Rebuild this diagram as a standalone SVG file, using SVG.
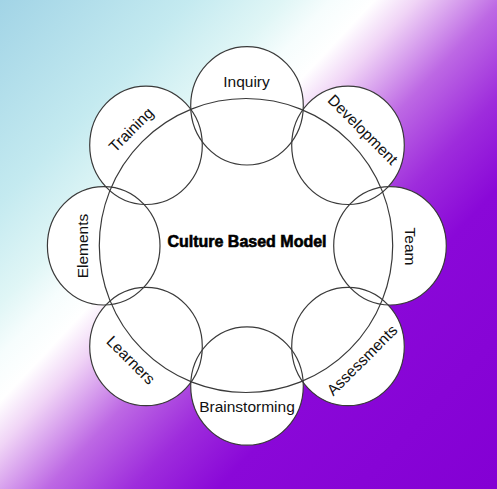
<svg xmlns="http://www.w3.org/2000/svg" width="497" height="489" viewBox="0 0 497 489">
  <defs>
    <linearGradient id="bg" gradientUnits="userSpaceOnUse" x1="0" y1="0" x2="507" y2="473">
      <stop offset="0" stop-color="#a2d4e6"/>
      <stop offset="0.2" stop-color="#c4eaf0"/>
      <stop offset="0.3" stop-color="#e0f6f6"/>
      <stop offset="0.35" stop-color="#f6fdfd"/>
      <stop offset="0.395" stop-color="#ffffff"/>
      <stop offset="0.44" stop-color="#f0d4f6"/>
      <stop offset="0.53" stop-color="#bd68e4"/>
      <stop offset="0.62" stop-color="#9e2cdc"/>
      <stop offset="0.71" stop-color="#8a08d8"/>
      <stop offset="1" stop-color="#8400d4"/>
    </linearGradient>
  </defs>
  <style>
    .fill { fill: #ffffff; stroke: none; }
    .ring { fill: none; stroke: #3a3a3a; stroke-width: 1.2; }
    .lbl { font-family: "Liberation Sans", Arial, sans-serif; font-size: 15.5px; fill: #111111; text-anchor: middle; }
    .title { font-family: "Liberation Sans", Arial, sans-serif; font-size: 16px; font-weight: bold; fill: #000000; stroke: #000000; stroke-width: 0.6; text-anchor: middle; }
  </style>
  <rect x="0" y="0" width="497" height="489" fill="url(#bg)"/>
  <g id="fills">
    <ellipse class="fill" cx="246" cy="245.5" rx="146.7" ry="147"/>
    <ellipse class="fill" cx="247" cy="105.8" rx="56.3" ry="59.2"/>
    <ellipse class="fill" cx="146" cy="145.3" rx="56.3" ry="59.2"/>
    <ellipse class="fill" cx="348" cy="145.3" rx="56.3" ry="59.2"/>
    <ellipse class="fill" cx="103.7" cy="245.8" rx="56.3" ry="59.2"/>
    <ellipse class="fill" cx="390" cy="245.8" rx="56.3" ry="59.2"/>
    <ellipse class="fill" cx="146" cy="346.5" rx="56.3" ry="59.2"/>
    <ellipse class="fill" cx="348" cy="346.5" rx="56.3" ry="59.2"/>
    <ellipse class="fill" cx="247" cy="386" rx="56.3" ry="59.2"/>
  </g>
  <g id="center">
    <ellipse class="ring" cx="246" cy="245.5" rx="146.7" ry="147"/>
    <text class="title" x="247" y="246.7">Culture Based Model</text>
  </g>
  <g id="inquiry">
    <ellipse class="ring" cx="247" cy="105.8" rx="56.3" ry="59.2"/>
    <text class="lbl" transform="translate(246.5,81.5)" y="5.5">Inquiry</text>
  </g>
  <g id="training">
    <ellipse class="ring" cx="146" cy="145.3" rx="56.3" ry="59.2"/>
    <text class="lbl" transform="translate(131,129.5) rotate(-45)" y="5.5">Training</text>
  </g>
  <g id="development">
    <ellipse class="ring" cx="348" cy="145.3" rx="56.3" ry="59.2"/>
    <text class="lbl" transform="translate(363,129.5) rotate(45)" y="5.5">Development</text>
  </g>
  <g id="elements">
    <ellipse class="ring" cx="103.7" cy="245.8" rx="56.3" ry="59.2"/>
    <text class="lbl" transform="translate(82,246) rotate(-90)" y="5.5">Elements</text>
  </g>
  <g id="team">
    <ellipse class="ring" cx="390" cy="245.8" rx="56.3" ry="59.2"/>
    <text class="lbl" transform="translate(410,246.5) rotate(90)" y="5.5">Team</text>
  </g>
  <g id="learners">
    <ellipse class="ring" cx="146" cy="346.5" rx="56.3" ry="59.2"/>
    <text class="lbl" transform="translate(131,360) rotate(45)" y="5.5">Learners</text>
  </g>
  <g id="assessments">
    <ellipse class="ring" cx="348" cy="346.5" rx="56.3" ry="59.2"/>
    <text class="lbl" transform="translate(362,360) rotate(-45)" y="5.5">Assessments</text>
  </g>
  <g id="brainstorming">
    <ellipse class="ring" cx="247" cy="386" rx="56.3" ry="59.2"/>
    <text class="lbl" transform="translate(247,406.5)" y="5.5">Brainstorming</text>
  </g>
</svg>
